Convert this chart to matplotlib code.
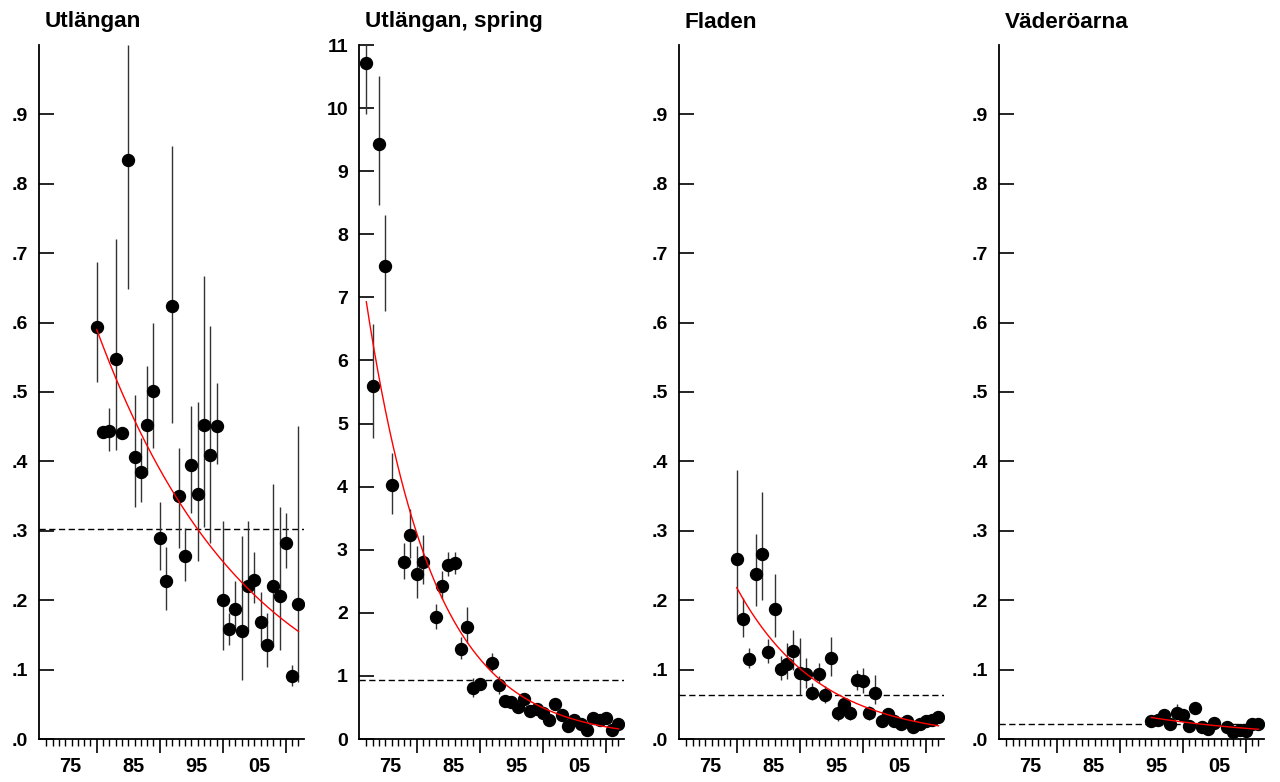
import matplotlib

matplotlib.use("Agg")
import matplotlib.pyplot as plt
import matplotlib.transforms as mtransforms
import numpy as np

plt.rcParams["font.family"] = ["Liberation Sans", "DejaVu Sans"]
plt.rcParams["font.weight"] = "bold"

# --- Utlängan ---
utl_years = list(range(1980, 2013))
utl_vals = [0.594, 0.443, 0.444, 0.548, 0.441, 0.835, 0.407, 0.385, 0.452, 0.501,
            0.289, 0.227, 0.624, 0.350, 0.263, 0.395, 0.353, 0.453, 0.409, 0.451,
            0.200, 0.158, 0.187, 0.156, 0.220, 0.229, 0.168, 0.136, 0.220, 0.206,
            0.283, 0.091, 0.194]
utl_lo = [0.514, 0.435, 0.415, 0.417, 0.435, 0.648, 0.334, 0.341, 0.381, 0.420,
          0.244, 0.186, 0.456, 0.275, 0.227, 0.325, 0.256, 0.306, 0.282, 0.396,
          0.128, 0.136, 0.157, 0.085, 0.155, 0.196, 0.136, 0.104, 0.133, 0.128,
          0.246, 0.076, 0.082]
utl_hi = [0.688, 0.450, 0.477, 0.720, 0.447, 1.000, 0.496, 0.434, 0.537, 0.600,
          0.342, 0.277, 0.855, 0.419, 0.304, 0.480, 0.485, 0.667, 0.595, 0.513,
          0.314, 0.181, 0.227, 0.293, 0.314, 0.270, 0.212, 0.181, 0.367, 0.334,
          0.326, 0.107, 0.451]

# --- Utlängan, spring ---
spr_years = [1972, 1973, 1974, 1975, 1976, 1978, 1979, 1980, 1981, 1983, 1984, 1985,
             1986, 1987, 1988, 1989, 1990, 1992, 1993, 1994, 1995, 1996, 1997, 1998,
             1999, 2000, 2001, 2002, 2003, 2004, 2005, 2006, 2007, 2008, 2009, 2010,
             2011, 2012]
spr_vals = [10.72, 5.60, 9.43, 7.50, 4.02, 2.81, 3.24, 2.62, 2.81, 1.93, 2.43, 2.76,
            2.79, 1.43, 1.78, 0.81, 0.87, 1.21, 0.86, 0.60, 0.58, 0.50, 0.63, 0.45,
            0.47, 0.42, 0.30, 0.55, 0.38, 0.21, 0.30, 0.24, 0.14, 0.33, 0.30, 0.34,
            0.15, 0.24]
spr_lo = [9.90, 4.77, 8.47, 6.78, 3.57, 2.54, 2.87, 2.23, 2.45, 1.74, 2.22, 2.58,
          2.61, 1.27, 1.52, 0.67, 0.80, 1.07, 0.72, 0.55, 0.52, 0.44, 0.55, 0.40,
          0.41, 0.37, 0.26, 0.48, 0.33, 0.17, 0.25, 0.20, 0.11, 0.28, 0.26, 0.29,
          0.12, 0.20]
spr_hi = [11.0, 6.58, 10.51, 8.30, 4.53, 3.11, 3.64, 3.06, 3.23, 2.14, 2.67, 2.96,
          2.96, 1.61, 2.09, 0.96, 0.94, 1.36, 1.00, 0.66, 0.64, 0.56, 0.72, 0.50,
          0.56, 0.47, 0.34, 0.62, 0.43, 0.25, 0.35, 0.28, 0.17, 0.38, 0.34, 0.39,
          0.18, 0.28]

# --- Fladen ---
fla_years = list(range(1980, 2013))
fla_vals = [0.260, 0.173, 0.115, 0.238, 0.267, 0.126, 0.187, 0.101, 0.108, 0.127,
            0.095, 0.093, 0.067, 0.094, 0.064, 0.116, 0.037, 0.050, 0.037, 0.085,
            0.083, 0.037, 0.067, 0.026, 0.036, 0.026, 0.022, 0.026, 0.018, 0.022,
            0.026, 0.027, 0.032]
fla_lo = [0.174, 0.147, 0.102, 0.191, 0.200, 0.110, 0.147, 0.085, 0.087, 0.099,
          0.063, 0.073, 0.056, 0.080, 0.052, 0.091, 0.026, 0.042, 0.028, 0.070,
          0.066, 0.028, 0.050, 0.022, 0.030, 0.022, 0.019, 0.022, 0.015, 0.019,
          0.022, 0.023, 0.028]
fla_hi = [0.388, 0.203, 0.131, 0.296, 0.356, 0.144, 0.238, 0.120, 0.138, 0.157,
          0.145, 0.116, 0.080, 0.110, 0.077, 0.147, 0.052, 0.058, 0.047, 0.100,
          0.103, 0.047, 0.092, 0.031, 0.042, 0.030, 0.026, 0.030, 0.021, 0.026,
          0.034, 0.032, 0.036]

# --- Väderöarna ---
vad_years = [1995, 1996, 1997, 1998, 1999, 2000, 2001, 2002, 2003, 2004, 2005,
             2007, 2008, 2009, 2010, 2011, 2012]
vad_vals = [0.026, 0.028, 0.035, 0.021, 0.038, 0.035, 0.019, 0.045, 0.017, 0.015,
            0.023, 0.017, 0.010, 0.013, 0.011, 0.022, 0.021]
vad_lo = [0.022, 0.025, 0.032, 0.019, 0.033, 0.031, 0.017, 0.042, 0.015, 0.013,
          0.021, 0.015, 0.008, 0.011, 0.009, 0.020, 0.019]
vad_hi = [0.035, 0.031, 0.038, 0.024, 0.050, 0.039, 0.022, 0.048, 0.019, 0.017,
          0.026, 0.019, 0.016, 0.015, 0.013, 0.024, 0.023]

titles = ["Utlängan", "Utlängan, spring", "Fladen", "Väderöarna"]
ref_levels = [0.302, 0.93, 0.064, 0.021]
# fitted exponential trend: value at first and last year of each series
trend_start = [0.590, 6.93, 0.218, 0.031]
trend_end = [0.155, 0.16, 0.019, 0.014]
ymax = [1.0, 11.0, 1.0, 1.0]

panels = [
    (utl_years, utl_vals, utl_lo, utl_hi),
    (spr_years, spr_vals, spr_lo, spr_hi),
    (fla_years, fla_vals, fla_lo, fla_hi),
    (vad_years, vad_vals, vad_lo, vad_hi),
]

W, H = 1280, 782
fig = plt.figure(figsize=(W / 100, H / 100), dpi=100)

lefts_px = [39, 359, 679, 999]
for i, (years, vals, lo, hi) in enumerate(panels):
    ax = fig.add_axes([lefts_px[i] / W, 43 / H, 264.5 / W, 694 / H])
    years = np.array(years)
    vals = np.array(vals)
    lo = np.array(lo)
    hi = np.array(hi)

    ax.vlines(years, lo, hi, color="#333333", lw=1.0, zorder=2)
    ax.plot(years, vals, "o", color="black", ms=8.6, zorder=3)

    t = np.linspace(years[0], years[-1], 200)
    rate = np.log(trend_end[i] / trend_start[i]) / (years[-1] - years[0])
    ax.plot(t, trend_start[i] * np.exp(rate * (t - years[0])), color="red", lw=1.0, zorder=4)

    ax.axhline(ref_levels[i], color="black", lw=1.0, ls=(0, (4.5, 2.5)), zorder=1)

    ax.set_xlim(1970.84, 2012.8)
    ax.set_ylim(0, ymax[i])
    for side in ("top", "right"):
        ax.spines[side].set_visible(False)
    for side in ("left", "bottom"):
        ax.spines[side].set_linewidth(1.3)

    if ymax[i] > 2:
        yt = np.arange(0, 12)
        ax.set_yticks(yt)
        ax.set_yticklabels([str(v) for v in yt])
    else:
        yt = np.round(np.arange(0, 1.0, 0.1), 1)
        ax.set_yticks(yt)
        ax.set_yticklabels(["." + f"{v:.1f}".split(".")[1] for v in yt])
    ax.tick_params(axis="y", direction="in", length=11, width=1.2, pad=8,
                   labelsize=14)

    ax.set_xticks([1980, 1990, 2000, 2010])
    ax.set_xticklabels([])
    ax.set_xticks(np.arange(1972, 2013), minor=True)
    ax.tick_params(axis="x", which="major", direction="out", length=10, width=1.2)
    ax.tick_params(axis="x", which="minor", direction="out", length=5, width=1.0)
    trans = mtransforms.blended_transform_factory(ax.transData, ax.transAxes)
    for pos, lab in zip([1975.8, 1985.8, 1995.8, 2005.8], ["75", "85", "95", "05"]):
        ax.text(pos, -0.026, lab, transform=trans, ha="center", va="top",
                fontsize=14.3, fontweight="bold")

    fig.text((lefts_px[i] + 6) / W, 1 - 22 / H, titles[i], ha="left", va="center",
             fontsize=16.2, fontweight="bold")

fig.savefig("out.png", dpi=100)
